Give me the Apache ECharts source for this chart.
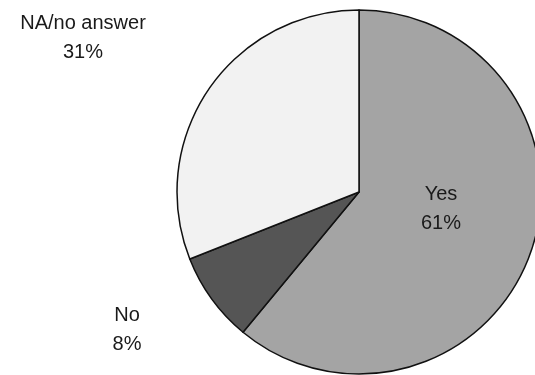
<!DOCTYPE html>
<html>
<head>
<meta charset="utf-8">
<style>
  html, body { margin: 0; padding: 0; background: #ffffff; }
  #chart { width: 535px; height: 375px; }
</style>
<script src="https://cdn.jsdelivr.net/npm/echarts@6/dist/echarts.min.js"></script>
</head>
<body>
<div id="chart"></div>
<script>
// Survey answers, shares in percent
const categories = ['Yes', 'No', 'NA/no answer'];
const shares = [61, 8, 31];
const sliceColors = ['#a4a4a4', '#555555', '#f2f2f2'];

// Label anchor points (px) for each answer, in drawing order
const labelAnchors = [[441, 209], [127, 330], [83, 38]];

const chart = echarts.init(document.getElementById('chart'), null, { renderer: 'canvas' });

chart.setOption({
  backgroundColor: '#ffffff',
  animation: false,
  series: [{
    type: 'pie',
    center: [359, 192],
    radius: 182,
    startAngle: 90,
    clockwise: true,
    avoidLabelOverlap: false,
    itemStyle: { borderColor: '#111111', borderWidth: 1.5 },
    label: {
      show: true,
      position: 'inside',
      formatter: p => p.name + '\n' + p.value + '%',
      fontFamily: 'Liberation Sans, Arial, sans-serif',
      fontSize: 20,
      lineHeight: 29,
      color: '#1a1a1a',
      align: 'center'
    },
    labelLine: { show: false },
    labelLayout: p => ({
      x: labelAnchors[p.dataIndex][0],
      y: labelAnchors[p.dataIndex][1],
      align: 'center',
      verticalAlign: 'middle'
    }),
    emphasis: { disabled: true },
    data: categories.map((name, i) => ({
      name: name,
      value: shares[i],
      itemStyle: { color: sliceColors[i] }
    }))
  }]
});
</script>
</body>
</html>
